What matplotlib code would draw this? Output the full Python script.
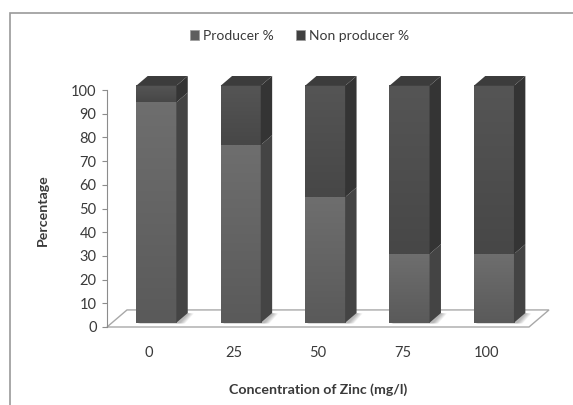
import numpy as np
import matplotlib.pyplot as plt
from matplotlib.patches import Polygon, Rectangle, Patch
from matplotlib.colors import LinearSegmentedColormap

# Данные
concentrations = ['0', '25', '50', '75', '100']
producer = [93, 75, 53, 29, 29]
non_producer = [7, 25, 47, 71, 71]

plt.rcParams['font.family'] = ['Lato', 'DejaVu Sans']
text_color = '#3a3a3a'

fig = plt.figure(figsize=(5.73, 4.05), dpi=100)
ax = fig.add_axes([107 / 573, 78 / 405, 422 / 573, 237 / 405])
ax.set_xlim(-0.5, len(concentrations) - 0.5)
ax.set_ylim(0, 100)

# глубина "пола" и положение столбцов по глубине (имитация 3D Excel)
depth_x, depth_y = 0.237, 7.2
f0, f1 = 0.25, 0.82
width = 0.475
off_x, off_y = f0 * depth_x + 0.025, f0 * depth_y
bdx, bdy = (f1 - f0) * depth_x, (f1 - f0) * depth_y

# пол
x0, x1 = -0.5, len(concentrations) - 0.5
floor = Polygon([(x0, 0), (x1, 0), (x1 + depth_x, depth_y), (x0 + depth_x, depth_y)],
                closed=True, facecolor='white', edgecolor='#a8a8a8', lw=1.0,
                clip_on=False, zorder=1)
ax.add_patch(floor)

# градиенты передних граней: (низ, верх)
front_cmaps = [LinearSegmentedColormap.from_list('prod', ['#5a5a5a', '#6e6e6e']),
               LinearSegmentedColormap.from_list('nonprod', ['#474747', '#555555'])]
side_colors = ['#444444', '#343434']
top_color = '#3c3c3c'
grad = np.linspace(0, 1, 64).reshape(-1, 1)

for i, (p, n) in enumerate(zip(producer, non_producer)):
    xc = i + off_x
    xl, xr = xc - width / 2, xc + width / 2
    # тень на полу
    for k in range(6):
        s = 0.012 * (k + 1)
        ax.add_patch(Polygon([(xl + 0.02, off_y - 0.3), (xr + 0.03 + s, off_y - 0.3),
                              (xr + bdx + s, off_y + bdy - 0.2), (xr + bdx, off_y + bdy)],
                             closed=True, facecolor='black', alpha=0.05, lw=0,
                             clip_on=False, zorder=2))
    segments = [(0, p), (p, p + n)]
    for j, (y0, y1) in enumerate(segments):
        ax.imshow(grad, cmap=front_cmaps[j], origin='lower', aspect='auto',
                  extent=(xl, xr, y0 + off_y, y1 + off_y), interpolation='bilinear',
                  clip_on=False, zorder=3)
        side = Polygon([(xr, y0 + off_y), (xr + bdx, y0 + off_y + bdy),
                        (xr + bdx, y1 + off_y + bdy), (xr, y1 + off_y)],
                       closed=True, facecolor=side_colors[j], lw=0, clip_on=False, zorder=3)
        ax.add_patch(side)
    ytop = p + n + off_y
    top = Polygon([(xl, ytop), (xr, ytop), (xr + bdx, ytop + bdy), (xl + bdx, ytop + bdy)],
                  closed=True, facecolor=top_color, lw=0, clip_on=False, zorder=3)
    ax.add_patch(top)

ax.set_xlim(-0.5, len(concentrations) - 0.5)
ax.set_ylim(0, 100)

# оси
for s in ['top', 'right', 'bottom']:
    ax.spines[s].set_visible(False)
ax.spines['left'].set_color('#8c8c8c')
ax.set_yticks(range(0, 101, 10))
ax.tick_params(axis='y', direction='out', length=3.5, color='#8c8c8c',
               labelsize=10.5, labelcolor=text_color, pad=4)
ax.set_xticks(range(len(concentrations)))
ax.set_xticklabels(concentrations)
ax.tick_params(axis='x', length=0, labelsize=10.5, labelcolor=text_color, pad=14)

ax.set_ylabel('Percentage', fontsize=10.2, fontweight='bold', color=text_color)
ax.yaxis.set_label_coords(-0.137, 0.494)
ax.set_xlabel('Concentration of Zinc (mg/l)', fontsize=10.2, fontweight='bold', color=text_color)
ax.xaxis.set_label_coords(0.5, -0.236)

handles = [Patch(facecolor='#5e5e5e', edgecolor='#9a9a9a', lw=0.5, label='Producer %'),
           Patch(facecolor='#404040', edgecolor='#9a9a9a', lw=0.5, label='Non producer %')]
fig.legend(handles=handles, loc='center', bbox_to_anchor=(0.523, 1 - 36 / 405), ncol=2,
           frameon=False, fontsize=10, labelcolor=text_color, handlelength=0.65,
           handleheight=0.65, handletextpad=0.3, columnspacing=1.6)

# рамка диаграммы
fig.patches.append(Rectangle((10 / 573, -0.1), 1.2, 1 - 13 / 405 + 0.1,
                             transform=fig.transFigure, fill=False,
                             edgecolor='#9a9a9a', lw=1.2))

plt.savefig('out.png', dpi=100)
plt.close()
